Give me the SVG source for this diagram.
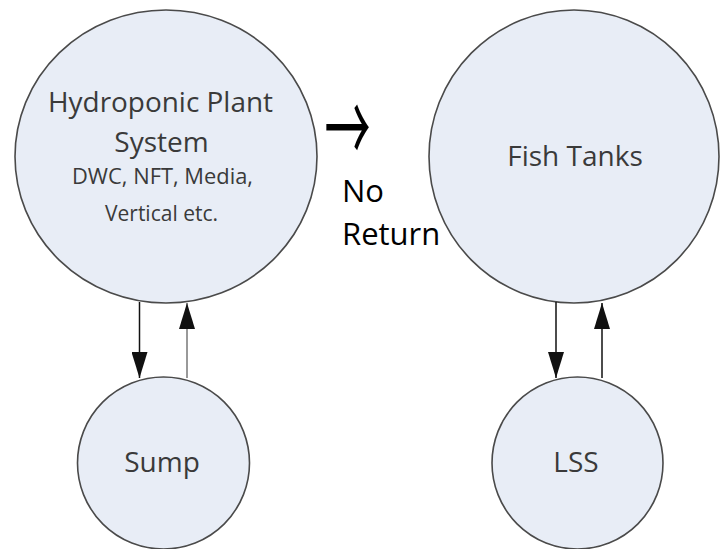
<svg xmlns="http://www.w3.org/2000/svg" width="721" height="549" viewBox="0 0 721 549">
  <style>
    .node { fill: #e8edf6; stroke: #4a4a4a; stroke-width: 1.6; }
    .lbl { font-family: "Open Sans", "Liberation Sans", sans-serif; fill: #3a3a3a; text-anchor: middle; }
    .big { font-size: 28px; }
    .small { font-size: 21px; }
    .note { font-family: "Open Sans", "Liberation Sans", sans-serif; font-size: 31px; fill: #000; }
    .edge { stroke: #111; stroke-width: 1.5; fill: none; }
    .edge.light { stroke: #777; }
  </style>
  <defs>
    <marker id="ah" markerUnits="userSpaceOnUse" markerWidth="26" markerHeight="16" viewBox="0 0 26 16" refX="26" refY="8" orient="auto">
      <path d="M0,0 L26,8 L0,16 Z" fill="#111"/>
    </marker>
  </defs>
  <rect width="721" height="549" fill="#ffffff"/>

  <g id="hydroponic">
    <ellipse class="node" cx="166" cy="156.5" rx="151" ry="146.5"/>
    <text class="lbl big" x="160.5" y="112" textLength="225" lengthAdjust="spacingAndGlyphs">Hydroponic Plant</text>
    <text class="lbl big" x="161.5" y="152">System</text>
    <text class="lbl small" x="162.5" y="184" textLength="181" lengthAdjust="spacingAndGlyphs">DWC, NFT, Media,</text>
    <text class="lbl small" x="161.5" y="221" textLength="113" lengthAdjust="spacingAndGlyphs">Vertical etc.</text>
  </g>

  <g id="fishtanks">
    <ellipse class="node" cx="574" cy="156.5" rx="145" ry="146.5"/>
    <text class="lbl big" x="575" y="166">Fish Tanks</text>
  </g>

  <g id="sump">
    <ellipse class="node" cx="163.5" cy="463" rx="86" ry="86"/>
    <text class="lbl big" x="162" y="472">Sump</text>
  </g>

  <g id="lss">
    <ellipse class="node" cx="577.5" cy="463" rx="85.5" ry="86"/>
    <text class="lbl big" x="576" y="472">LSS</text>
  </g>

  <g id="note">
    <text x="347.5" y="146" transform="translate(0,130) scale(1,2.1) translate(0,-130)" style="font-family: 'Noto Sans CJK JP', sans-serif; font-size: 46px; fill: #000; text-anchor: middle;">→</text>
    <text class="note" x="342" y="202">No</text>
    <text class="note" x="342" y="245">Return</text>
  </g>

  <g id="connectors">
    <line class="edge" x1="139.5" y1="302" x2="139.5" y2="378" marker-end="url(#ah)"/>
    <line class="edge light" x1="187" y1="378" x2="187" y2="303" marker-end="url(#ah)"/>
    <line class="edge" x1="556" y1="302" x2="556" y2="378" marker-end="url(#ah)"/>
    <line class="edge" x1="602" y1="378" x2="602" y2="303" marker-end="url(#ah)"/>
  </g>
</svg>
